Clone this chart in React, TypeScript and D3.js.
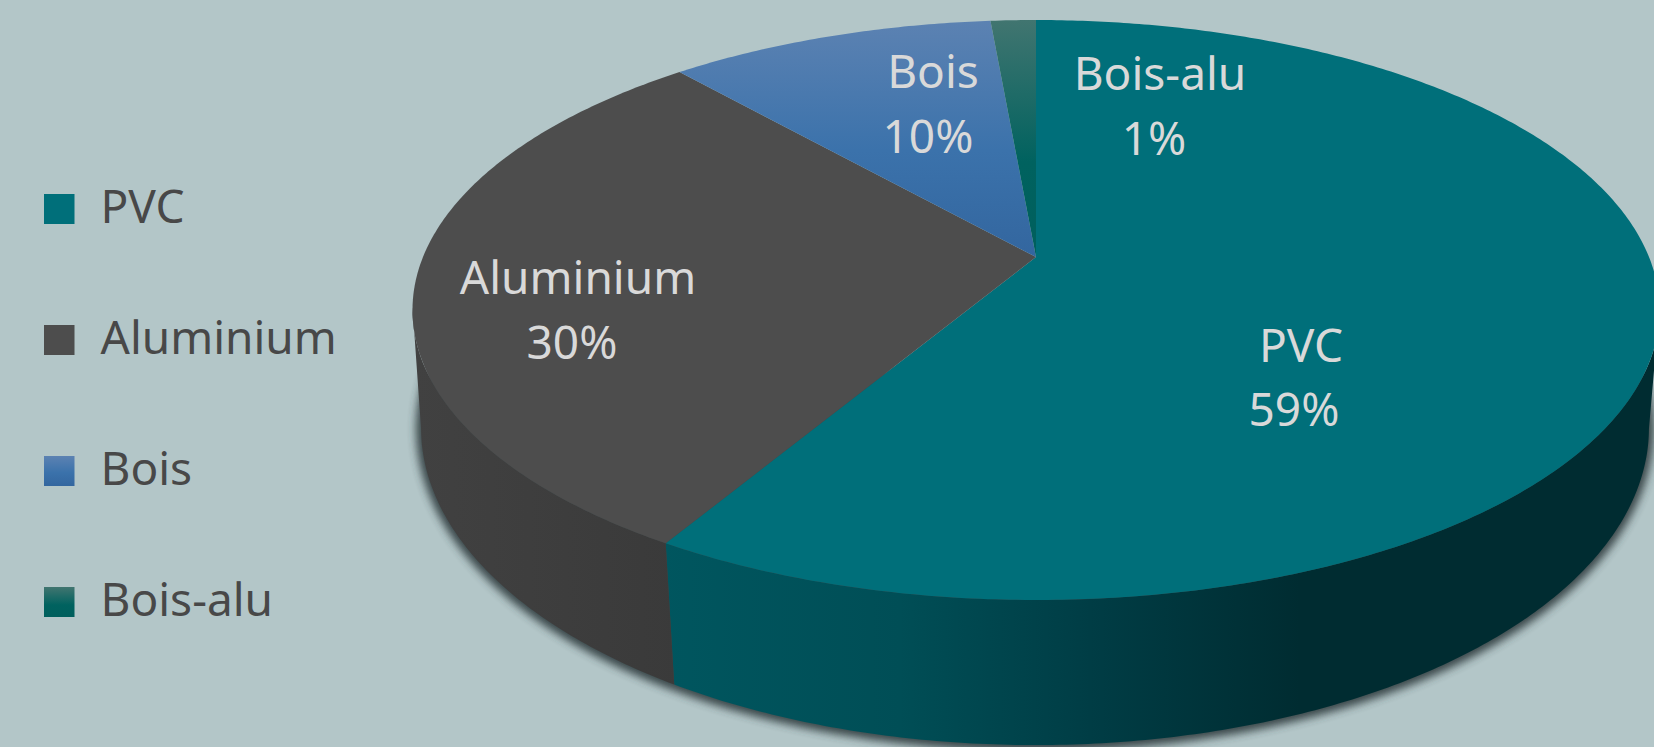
import React from 'react';
import * as d3 from 'd3';

const categories = ['PVC', 'Aluminium', 'Bois', 'Bois-alu'];
const shares = [58.5, 30, 10.1, 1.4];
const shownPercent = ['59%', '30%', '10%', '1%'];

const width = 1654;
const height = 747;
const font = '"Noto Sans", "Open Sans", sans-serif';

// perspective of the disc, each plane has its own squeeze: far rim small, near rim big
const topPlane = { x: 1036, y: 257, rx: 613, ry: 280.3, k: -0.1828 };
const bottomPlane = { x: 1035, y: 374, rx: 605, ry: 308, k: -0.17 };

// label anchors, [name, percent] lines centred on x with a baseline y
const labelAnchors = [
  [[1301, 362], [1294, 426]],
  [[578, 294], [572, 359]],
  [[933, 88], [928, 153]],
  [[1160, 90], [1154, 155]],
];

const project = (a: number, plane = topPlane): [number, number] => {
  const u = Math.sin(a);
  const v = -Math.cos(a);
  const w = 1 + plane.k * v;
  return [plane.x + (plane.rx * u) / w, plane.y + (plane.ry * v) / w];
};

const arcPoints = (a0: number, a1: number, plane = topPlane) => {
  const n = Math.max(2, Math.ceil(Math.abs(a1 - a0) / 0.01));
  return d3.range(n + 1).map((i) => project(a0 + ((a1 - a0) * i) / n, plane));
};

const path = d3.line();

const arcs = d3.pie<number>().sort(null)(shares);

const fills = d3
  .scaleOrdinal<string, string>()
  .domain(categories)
  .range(['#006f7a', '#4d4d4d', 'url(#topBois)', 'url(#topBoisAlu)']);

const sideFills = d3
  .scaleOrdinal<string, string>()
  .domain(categories)
  .range(['url(#sidePvc)', 'url(#sideAlu)', 'none', 'none']);

const legendY = d3.scalePoint<string>().domain(categories).range([209, 602]);

// angles where the rim leaves the disc outline
const rimStart = (Math.PI * 5) / 9;
const rimEnd = (Math.PI * 13) / 9;

export default function App() {
  const sides = arcs
    .map((d, i) => ({
      name: categories[i],
      a0: Math.max(d.startAngle, rimStart),
      a1: Math.min(d.endAngle, rimEnd),
    }))
    .filter((d) => d.a1 > d.a0);

  return (
    <svg
      width={width}
      height={height}
      style={{ position: 'absolute', left: 0, top: 0, display: 'block' }}
      fontFamily={font}
    >
      <defs>
        <linearGradient id="topBois" x1="0" y1="0" x2="0" y2="1">
          <stop offset="0" stopColor="#5c82b2" />
          <stop offset="0.55" stopColor="#3b72ab" />
          <stop offset="1" stopColor="#33669f" />
        </linearGradient>
        <linearGradient id="topBoisAlu" x1="0" y1="0" x2="0" y2="1">
          <stop offset="0" stopColor="#417570" />
          <stop offset="0.6" stopColor="#00625f" />
          <stop offset="1" stopColor="#005f5d" />
        </linearGradient>
        <linearGradient id="sidePvc" gradientUnits="userSpaceOnUse" x1="660" y1="0" x2="1300" y2="0">
          <stop offset="0" stopColor="#00565f" />
          <stop offset="0.375" stopColor="#004e56" />
          <stop offset="0.69" stopColor="#003c44" />
          <stop offset="1" stopColor="#002c31" />
        </linearGradient>
        <linearGradient id="sideAlu" gradientUnits="userSpaceOnUse" x1="415" y1="0" x2="680" y2="0">
          <stop offset="0" stopColor="#414141" />
          <stop offset="1" stopColor="#3a3a3a" />
        </linearGradient>
        <filter id="rimShadow" x="-5%" y="-5%" width="110%" height="120%">
          <feGaussianBlur stdDeviation="4" />
        </filter>
      </defs>

      <rect width={width} height={height} fill="#b3c6c8" />

      <path
        d={path(arcPoints(Math.PI * 0.5, Math.PI * 1.5, bottomPlane)) + 'Z'}
        fill="#2f3a3c"
        stroke="#2f3a3c"
        strokeWidth={10}
        opacity={0.9}
        transform="translate(0,1)"
        filter="url(#rimShadow)"
      />

      {sides.map((d) => (
        <path
          key={d.name}
          d={path([...arcPoints(d.a0, d.a1), ...arcPoints(d.a1, d.a0, bottomPlane)]) + 'Z'}
          fill={sideFills(d.name)}
        />
      ))}

      {arcs.map((d, i) => (
        <path
          key={categories[i]}
          d={path([[topPlane.x, topPlane.y], ...arcPoints(d.startAngle, d.endAngle)]) + 'Z'}
          fill={fills(categories[i])}
        />
      ))}

      {categories.map((name, i) => (
        <text key={name} textAnchor="middle" fontSize={46} fill="#d9d9d9">
          <tspan x={labelAnchors[i][0][0]} y={labelAnchors[i][0][1]}>{name}</tspan>
          <tspan x={labelAnchors[i][1][0]} y={labelAnchors[i][1][1]}>{shownPercent[i]}</tspan>
        </text>
      ))}

      {categories.map((name) => (
        <g key={name} transform={`translate(0,${legendY(name)})`}>
          <rect x={44} y={-15} width={30.5} height={30} fill={fills(name)} />
          <text x={100.5} y={14} fontSize={46} fill="#484848">{name}</text>
        </g>
      ))}
    </svg>
  );
}
